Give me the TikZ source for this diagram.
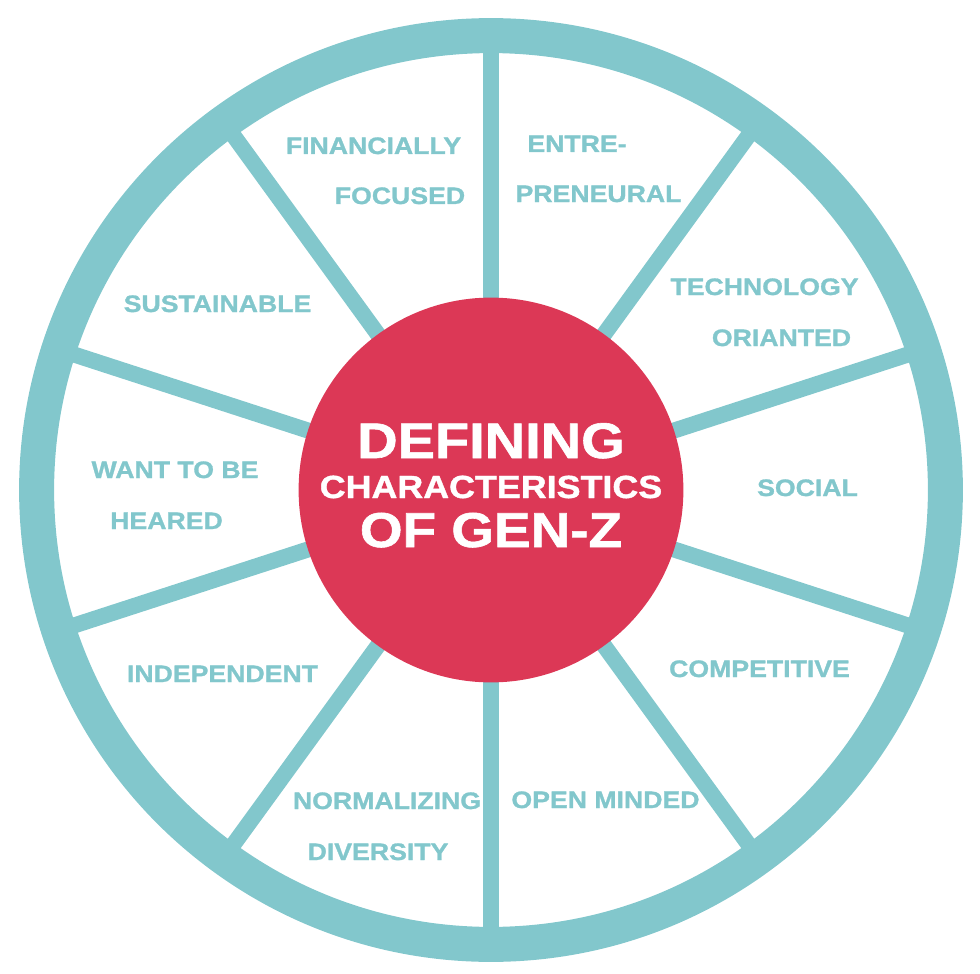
\documentclass[tikz,border=0pt]{standalone}
\usepackage{fontspec}
\newfontfamily\wheelfont{Liberation Sans Bold}[FakeStretch=1.12, FakeBold=1.2]
\definecolor{teal}{RGB}{130,199,204}
\definecolor{hubred}{RGB}{220,56,86}
\tikzset{
  ring/.style={draw=teal, line width=17.5pt},
  spoke/.style={draw=teal, line width=8pt},
  hub/.style={fill=hubred},
  lbl/.style={anchor=base, inner sep=0pt, text=teal, font=\wheelfont\fontsize{11.9}{14}\selectfont},
  ttl/.style={anchor=base, inner sep=0pt, text=white}
}
\begin{document}
\begin{tikzpicture}[x=0.5pt,y=-0.5pt]
\useasboundingbox (0,0) rectangle (980,974);
\coordinate (c) at (491,490);
% spokes
\foreach \a in {90,126,162,198,234,270,306,342,18,54}
  \draw[spoke] (c) -- ++(\a:228pt);
% outer ring
\draw[ring] (c) circle (227.2pt);
% hub
\fill[hub] (c) circle (96.2pt);
% title
\node[ttl, font=\wheelfont\fontsize{25}{28}\selectfont] (t1) at (491,458) {DEFINING};
\node[ttl, font=\wheelfont\fontsize{16}{18}\selectfont] (t2) at (491,498) {CHARACTERISTICS};
\node[ttl, font=\wheelfont\fontsize{24.5}{28}\selectfont] (t3) at (491,547) {OF GEN-Z};
% labels
\node[lbl] (l1a) at (373.5,154) {FINANCIALLY};
\node[lbl] (l1b) at (400,204) {FOCUSED};
\node[lbl] (l2a) at (577,152) {ENTRE-};
\node[lbl] (l2b) at (598.5,202) {PRENEURAL};
\node[lbl] (l3a) at (764.5,295) {TECHNOLOGY};
\node[lbl] (l3b) at (781.5,346) {ORIANTED};
\node[lbl] (l4) at (807.5,496) {SOCIAL};
\node[lbl] (l5) at (759.5,677) {COMPETITIVE};
\node[lbl] (l6) at (605.5,808) {OPEN MINDED};
\node[lbl] (l7a) at (387,809) {NORMALIZING};
\node[lbl] (l7b) at (378,860) {DIVERSITY};
\node[lbl] (l8) at (222.5,682) {INDEPENDENT};
\node[lbl] (l9a) at (175,478) {WANT TO BE};
\node[lbl] (l9b) at (166.5,529) {HEARED};
\node[lbl] (l10) at (217.5,312) {SUSTAINABLE};
\end{tikzpicture}
\end{document}
